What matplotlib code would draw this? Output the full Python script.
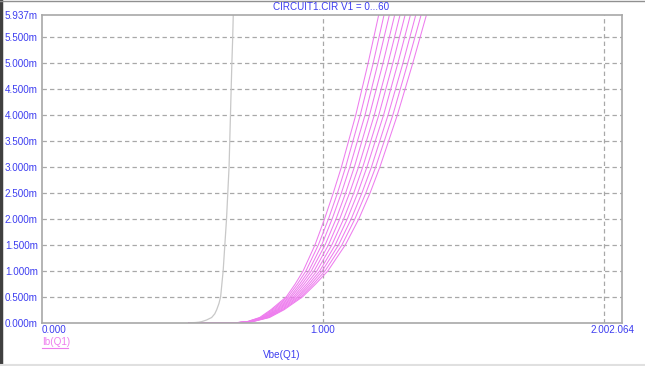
import numpy as np
import matplotlib.pyplot as plt
from matplotlib.lines import Line2D

plt.rcParams['font.family'] = ['Liberation Sans', 'DejaVu Sans']

# Ib(Q1) in mA, levels at which the magenta curves were read
ib_levels = [0.0, 0.0, 0.02, 0.1, 0.25, 0.5, 0.75, 1.0, 1.5, 2.0, 2.5, 3.0, 4.0, 5.0, 5.937]
# Vbe(Q1) of the 10 magenta curves at each level (one row per level, left -> right)
vbe_by_level = [
    [0.523, 0.523, 0.523, 0.523, 0.523, 0.523, 0.523, 0.523, 0.523, 0.523],
    [0.690, 0.691, 0.692, 0.693, 0.694, 0.696, 0.697, 0.698, 0.699, 0.700],
    [0.730, 0.732, 0.734, 0.737, 0.739, 0.741, 0.743, 0.746, 0.748, 0.750],
    [0.775, 0.779, 0.783, 0.787, 0.791, 0.794, 0.798, 0.802, 0.806, 0.810],
    [0.815, 0.820, 0.825, 0.831, 0.836, 0.841, 0.846, 0.852, 0.857, 0.862],
    [0.870, 0.876, 0.883, 0.889, 0.896, 0.902, 0.909, 0.915, 0.922, 0.928],
    [0.902, 0.910, 0.918, 0.926, 0.934, 0.943, 0.951, 0.959, 0.967, 0.975],
    [0.930, 0.940, 0.950, 0.959, 0.969, 0.979, 0.989, 0.998, 1.008, 1.018],
    [0.972, 0.984, 0.996, 1.008, 1.020, 1.032, 1.044, 1.056, 1.068, 1.080],
    [1.006, 1.020, 1.033, 1.047, 1.060, 1.074, 1.087, 1.101, 1.114, 1.128],
    [1.037, 1.052, 1.066, 1.081, 1.095, 1.110, 1.124, 1.139, 1.153, 1.168],
    [1.066, 1.081, 1.096, 1.112, 1.127, 1.142, 1.157, 1.173, 1.188, 1.203],
    [1.117, 1.133, 1.150, 1.166, 1.183, 1.199, 1.216, 1.232, 1.249, 1.265],
    [1.161, 1.179, 1.196, 1.214, 1.232, 1.249, 1.267, 1.285, 1.302, 1.320],
    [1.199, 1.218, 1.237, 1.256, 1.275, 1.293, 1.312, 1.331, 1.350, 1.369],
]

# grey curve
gray_vbe = [0.527, 0.545, 0.558, 0.568, 0.585, 0.604, 0.615, 0.622, 0.630, 0.636,
            0.645, 0.657, 0.666, 0.671, 0.676, 0.679, 0.681]
gray_ib = [0.0, 0.003, 0.01, 0.02, 0.05, 0.1, 0.17, 0.25, 0.37, 0.5,
           1.0, 2.0, 3.0, 4.0, 5.0, 5.5, 5.937]

y_ticks = [0.0, 0.5, 1.0, 1.5, 2.0, 2.5, 3.0, 3.5, 4.0, 4.5, 5.0, 5.5, 5.937]
y_labels = ['0.000m', '0.500m', '1.000m', '1.500m', '2.000m', '2.500m', '3.000m',
            '3.500m', '4.000m', '4.500m', '5.000m', '5.500m', '5.937m']
x_ticks = [0.0, 1.0, 2.03]
x_labels = ['0.000', '1.000', '2.002.064']

blue = '#3c3cf0'
magenta = '#ee7cee'
gridc = '#a8a8a8'
fs = 7.1

fig = plt.figure(figsize=(6.45, 3.66), dpi=100)
ax = fig.add_axes([42 / 645, 1 - 322.7 / 366, (621.7 - 42) / 645, (322.7 - 14.7) / 366])

curves = np.array(vbe_by_level).T
for vbe in curves:
    ax.plot(vbe, ib_levels, color=magenta, lw=0.75)
ax.plot(gray_vbe, gray_ib, color='#c8c8c8', lw=0.9)

for y in y_ticks[1:-1]:
    ax.axhline(y, color=gridc, lw=0.9, dashes=(3.5, 2.5), zorder=0)
for x in [1.0, 2.0]:
    ax.axvline(x, color=gridc, lw=0.9, dashes=(3.5, 2.5), zorder=0)

ax.set_xlim(0, 2.064)
ax.set_ylim(0, 5.937)
ax.set_yticks(y_ticks)
ax.set_yticklabels(y_labels)
ax.set_xticks(x_ticks)
ax.set_xticklabels(x_labels)
ax.tick_params(length=0, labelsize=fs, labelcolor=blue, pad=3)
ax.tick_params(axis='x', pad=2)
ax.get_xticklabels()[0].set_ha('left')
for s in ax.spines.values():
    s.set_color('#a8a8a8')
    s.set_linewidth(1.2)

fig.text(331 / 645, 1 - 7 / 366, 'CIRCUIT1.CIR V1 = 0...60', color=blue, fontsize=fs,
         ha='center', va='center')
fig.text(42 / 645, 1 - 342 / 366, 'Ib(Q1)', color=magenta, fontsize=fs, ha='left', va='center')
fig.add_artist(Line2D([42 / 645, 68 / 645], [1 - 347.5 / 366, 1 - 347.5 / 366], color=magenta, lw=0.8))
fig.text(282 / 645, 1 - 355 / 366, 'Vbe(Q1)', color=blue, fontsize=fs, ha='center', va='center')

# window borders
fig.add_artist(Line2D([1 / 645, 1 / 645], [0, 1], color='#404040', lw=2.5))
fig.add_artist(Line2D([0, 1], [1 - 0.5 / 366, 1 - 0.5 / 366], color='#909090', lw=1))
fig.add_artist(Line2D([0, 1], [1.5 / 366, 1.5 / 366], color='#e0e0e0', lw=1.5))

fig.savefig('out.png', dpi=100)
